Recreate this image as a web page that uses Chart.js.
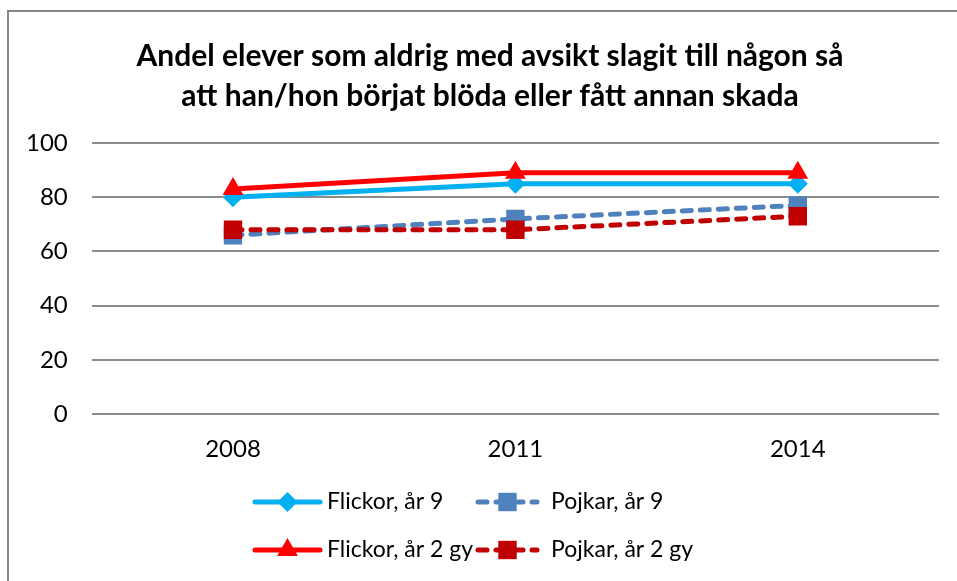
<!DOCTYPE html>
<html><head><meta charset="utf-8">
<script src="https://cdn.jsdelivr.net/npm/chart.js@4.4.1/dist/chart.umd.min.js"></script>
<style>html,body{margin:0;padding:0;background:#fff}#wrap{width:957px;height:581px;position:relative}</style>
</head><body><div id="wrap"><canvas id="c" width="957" height="581"></canvas></div>
<script>
const titleLines = ["Andel elever som aldrig med avsikt slagit till någon så", "att han/hon börjat blöda eller fått annan skada"];
const years = ["2008", "2011", "2014"];
const seriesNames = ["Flickor, år 9", "Pojkar, år 9", "Flickor, år 2 gy", "Pojkar, år 2 gy"];
const flickorAr9 = [80, 85, 85];
const pojkarAr9 = [66, 72, 77];
const flickorAr2gy = [83, 89, 89];
const pojkarAr2gy = [68, 68, 73];
const yTicks = [0, 20, 40, 60, 80, 100];

const FONT = "Lato, 'Open Sans', sans-serif";

const legendPos = [
  {ds: 0, sx: 255, ex: 320, tx: 327, y: 502},
  {ds: 1, sx: 478, ex: 537, tx: 551, y: 502},
  {ds: 2, sx: 255, ex: 320, tx: 327, y: 550},
  {ds: 3, sx: 478, ex: 537, tx: 551, y: 550}
];

const decor = {
  id: 'decor',
  beforeDraw(chart) {
    const ctx = chart.ctx;
    ctx.save();
    ctx.strokeStyle = '#868686';
    ctx.lineWidth = 2;
    ctx.beginPath();
    ctx.moveTo(8, 600);
    ctx.lineTo(8, 11);
    ctx.lineTo(960, 11);
    ctx.stroke();
    ctx.fillStyle = '#000';
    ctx.font = "bold 30px " + FONT;
    ctx.textAlign = 'center';
    ctx.textBaseline = 'middle';
    ctx.fillText(titleLines[0], 490, 56);
    ctx.fillText(titleLines[1], 490, 96);
    ctx.restore();
  },
  afterDraw(chart) {
    const ctx = chart.ctx;
    ctx.save();
    legendPos.forEach(p => {
      const ds = chart.data.datasets[p.ds];
      ctx.strokeStyle = ds.borderColor;
      ctx.lineWidth = ds.borderWidth;
      ctx.lineCap = 'round';
      ctx.setLineDash(ds.borderDash || []);
      ctx.beginPath();
      ctx.moveTo(p.sx, p.y);
      ctx.lineTo(p.ex, p.y);
      ctx.stroke();
      ctx.setLineDash([]);
      ctx.fillStyle = ds.pointBackgroundColor;
      ctx.strokeStyle = ds.pointBackgroundColor;
      ctx.lineWidth = 0.01;
      Chart.helpers.drawPoint(ctx, {
        pointStyle: ds.pointStyle, radius: ds.pointRadius, borderWidth: 0, rotation: 0
      }, (p.sx + p.ex) / 2, p.y);
      ctx.fillStyle = '#000';
      ctx.font = "23px " + FONT;
      ctx.textBaseline = 'middle';
      ctx.textAlign = 'left';
      ctx.fillText(ds.label, p.tx, p.y);
    });
    ctx.restore();
  }
};

function ds(label, data, color, style, radius, dash, order) {
  return {
    label, data, borderColor: color, backgroundColor: color,
    pointBackgroundColor: color, pointBorderColor: color, pointBorderWidth: 0,
    pointStyle: style, pointRadius: radius, pointHoverRadius: radius,
    borderWidth: 5, borderDash: dash, borderCapStyle: 'round',
    tension: 0, fill: false, order
  };
}

new Chart(document.getElementById('c'), {
  type: 'line',
  data: {
    labels: years,
    datasets: [
      ds(seriesNames[0], flickorAr9, '#00B0F0', 'rectRot', 10, [], 4),
      ds(seriesNames[1], pojkarAr9, '#4F81BD', 'rect', 13, [9, 9], 3),
      ds(seriesNames[2], flickorAr2gy, '#FF0000', 'triangle', 12, [], 2),
      ds(seriesNames[3], pojkarAr2gy, '#C00000', 'rect', 13, [9, 9], 1)
    ]
  },
  plugins: [decor],
  options: {
    responsive: false,
    animation: false,
    events: [],
    layout: { padding: { left: 2, right: 18, top: 143, bottom: 96 } },
    plugins: {
      legend: { display: false },
      tooltip: { enabled: false },
      title: { display: false }
    },
    scales: {
      x: {
        offset: true,
        grid: { display: false, drawTicks: false },
        border: { display: false },
        ticks: { color: '#000', font: { family: FONT, size: 24 }, padding: 21 }
      },
      y: {
        min: 0, max: 100,
        afterBuildTicks(axis) { axis.ticks = yTicks.map(v => ({ value: v })); },
        grid: { color: '#8C8C8C', lineWidth: 2, drawTicks: false },
        border: { display: false },
        ticks: { color: '#000', font: { family: FONT, size: 24 }, padding: 24 }
      }
    }
  }
});
</script></body></html>
